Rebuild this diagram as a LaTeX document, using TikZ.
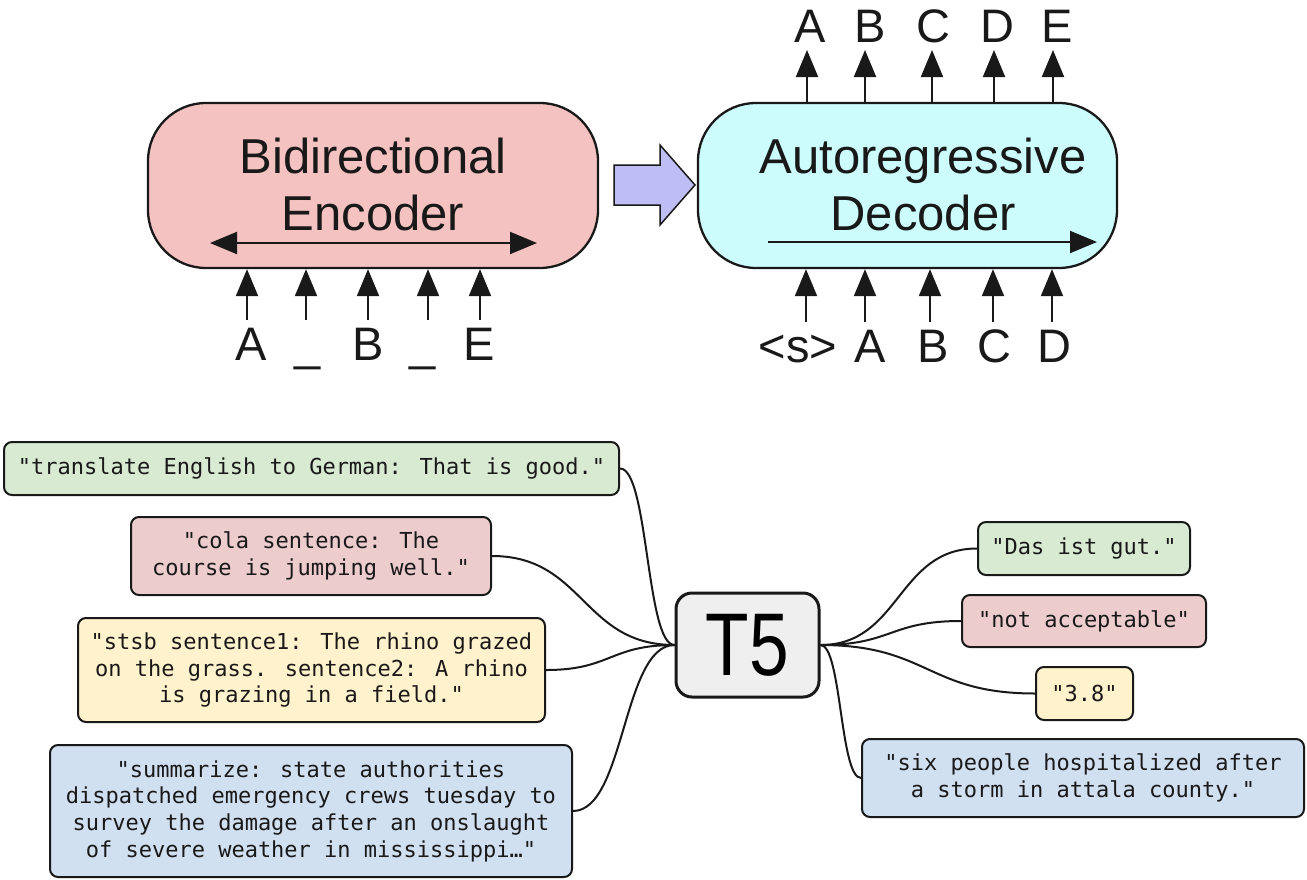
\documentclass[tikz,border=0pt]{standalone}
\usepackage{fontspec}
\setmainfont{Liberation Sans}
\newfontfamily\codefont[Ligatures=TeXOff]{DejaVu Sans Mono}
\usetikzlibrary{arrows.meta}

\definecolor{encfill}{RGB}{244,194,193}
\definecolor{decfill}{RGB}{204,252,252}
\definecolor{flowfill}{RGB}{190,190,245}
\definecolor{tgreen}{RGB}{217,234,211}
\definecolor{tred}{RGB}{236,204,204}
\definecolor{tyellow}{RGB}{255,242,204}
\definecolor{tblue}{RGB}{209,224,241}
\definecolor{tgray}{RGB}{239,239,239}
\definecolor{ink}{RGB}{25,25,25}

\begin{document}
\begin{tikzpicture}[x=1pt,y=-1pt,
  title/.style={font=\fontsize{49}{57}\selectfont, align=center, inner sep=0pt, text=ink},
  token/.style={font=\fontsize{47}{47}\selectfont, inner sep=0pt, anchor=base, text=ink},
  stage/.style={draw=ink, line width=2.3pt, rounded corners=58pt, minimum height=165pt},
  feed/.style={line width=2pt, draw=ink, -{Triangle[length=27pt,width=22pt]}},
  both/.style={line width=2pt, draw=ink, {Triangle[length=27pt,width=22pt]}-{Triangle[length=27pt,width=22pt]}},
  task/.style={draw=ink, line width=2pt, rounded corners=8pt, inner sep=0pt,
    font=\codefont\fontsize{22}{26.7}\selectfont, align=center, text=ink},
  link/.style={line width=2pt, draw=ink},
]
\useasboundingbox (0,0) rectangle (1307,879);

% ---------- encoder / decoder ----------
\node[stage, fill=encfill, minimum width=450pt] (enc) at (373,185.5) {};
\node[stage, fill=decfill, minimum width=419pt] (dec) at (907.5,185.5) {};
\node[title] (enctitle) at (373,184) {Bidirectional\\Encoder};
\node[title] (dectitle) at (923,184) {Autoregressive\\Decoder};

\coordinate (encL) at (210,243);
\coordinate (encR) at (537,243);
\draw[both] (encL) -- (encR);
\coordinate (decL) at (768,242);
\coordinate (decR) at (1097,242);
\draw[feed] (decL) -- (decR);

% hand-off arrow between the two stacks
\filldraw[fill=flowfill, draw=ink, line width=1.5pt, line join=miter]
  (614,165) -- (660,165) -- (660,145) -- (695,185) -- (660,225) -- (660,205) -- (614,205) -- cycle;

% encoder inputs
\node[token] (e1) at (251,360) {A};
\node[token] (e2) at (308,360) {\_};
\node[token] (e3) at (368,360) {B};
\node[token] (e4) at (423,360) {\_};
\node[token] (e5) at (479,360) {E};
\foreach \n/\dx in {e1/-4,e2/-2,e3/0,e4/5,e5/1}
  \draw[feed] ([xshift=\dx pt,yshift=40pt]\n.base) -- ([xshift=\dx pt]\n.base |- enc.south);

% decoder inputs
\node[token] (d1) at (798,362) {<s>};
\node[token] (d2) at (870,362) {A};
\node[token] (d3) at (933,362) {B};
\node[token] (d4) at (994,362) {C};
\node[token] (d5) at (1054,362) {D};
\foreach \n/\dx in {d1/8,d2/-5,d3/-3,d4/-1,d5/-2}
  \draw[feed] ([xshift=\dx pt,yshift=40pt]\n.base) -- ([xshift=\dx pt]\n.base |- dec.south);

% decoder outputs
\node[token] (o1) at (810,42) {A};
\node[token] (o2) at (870,42) {B};
\node[token] (o3) at (933,42) {C};
\node[token] (o4) at (997,42) {D};
\node[token] (o5) at (1057,42) {E};
\foreach \n/\dx in {o1/-3,o2/-5,o3/-1,o4/-3,o5/-4}
  \draw[feed] ([xshift=\dx pt]\n.base |- dec.north) -- ([xshift=\dx pt,yshift=-8pt]\n.base);

% ---------- T5 text-to-text ----------
\node[draw=ink, line width=3pt, rounded corners=16pt, fill=tgray, inner sep=0pt,
  minimum width=143pt, minimum height=104pt] (t5) at (747.5,645)
  {\scalebox{0.8}[1]{\fontsize{89}{89}\selectfont T5}};

\node[task, fill=tgreen, minimum width=615pt, minimum height=53pt] (inA) at (311.5,468.5)
  {"translate English to German: That is good."};
\node[task, fill=tred, minimum width=360pt, minimum height=78pt] (inB) at (311,556)
  {"cola sentence: The\\course is jumping well."};
\node[task, fill=tyellow, minimum width=467pt, minimum height=104pt] (inC) at (311.5,670)
  {"stsb sentence1: The rhino grazed\\on the grass. sentence2: A rhino\\is grazing in a field."};
\node[task, fill=tblue, minimum width=522pt, minimum height=132pt] (inD) at (311,811)
  {"summarize: state authorities\\dispatched emergency crews tuesday to\\survey the damage after an onslaught\\of severe weather in mississippi…"};

\node[task, fill=tgreen, minimum width=212pt, minimum height=53pt] (outA) at (1084,548.5)
  {"Das ist gut."};
\node[task, fill=tred, minimum width=244pt, minimum height=52pt] (outB) at (1084,621)
  {"not acceptable"};
\node[task, fill=tyellow, minimum width=97pt, minimum height=53pt] (outC) at (1084.5,693.5)
  {"3.8"};
\node[task, fill=tblue, minimum width=442pt, minimum height=78pt] (outD) at (1083,778)
  {"six people hospitalized after\\a storm in attala county."};

\draw[link] (inA.east) .. controls +(28.5,0) and +(-28.5,0) .. (t5.west);
\draw[link] (inB.east) .. controls +(92,0) and +(-92,0) .. (t5.west);
\draw[link] (inC.east) .. controls +(65,0) and +(-65,0) .. (t5.west);
\draw[link] (inD.east) .. controls +(52,0) and +(-52,0) .. (t5.west);

\draw[link] (t5.east) .. controls +(80,0) and +(-80,0) .. (outA.west);
\draw[link] (t5.east) .. controls +(72,0) and +(-72,0) .. (outB.west);
\draw[link] (t5.east) .. controls +(108,0) and +(-108,0) .. (outC.west);
\draw[link] (t5.east) .. controls +(21,0) and +(-21,0) .. (outD.west);
\end{tikzpicture}
\end{document}
